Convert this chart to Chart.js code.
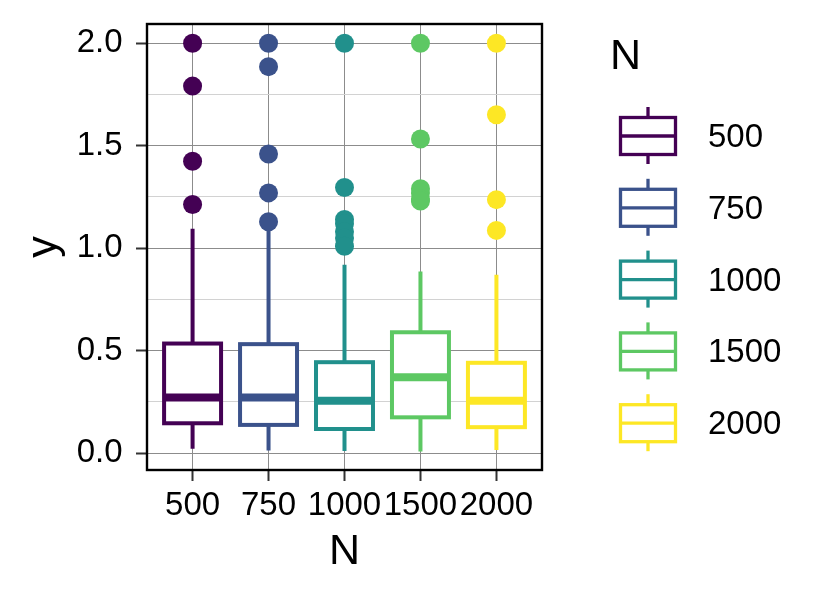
<!DOCTYPE html>
<html>
<head>
<meta charset="utf-8">
<script src="https://cdn.jsdelivr.net/npm/chart.js@4/dist/chart.umd.min.js"></script>
<style>
    body { margin: 0; background: #fff; }
    #wrap { width: 834px; height: 601px; position: relative; }
</style>
</head>
<body>
<div id="wrap"><canvas id="myChart"></canvas></div>
<script>
'use strict'

// dane
const categories = ["500", "750", "1000", "1500", "2000"];
const colors = ["#440154", "#3B528B", "#21908C", "#5DC863", "#FDE725"];
const lowerWhisker = [0.022, 0.013, 0.011, 0.008, 0.016];
const q1 = [0.146, 0.138, 0.118, 0.175, 0.127];
const median = [0.272, 0.272, 0.256, 0.370, 0.256];
const q3 = [0.535, 0.532, 0.444, 0.590, 0.441];
const upperWhisker = [1.095, 1.100, 0.920, 0.886, 0.871];
const outliers = [
    [2.0, 1.791, 1.424, 1.213],
    [2.0, 1.886, 1.460, 1.270, 1.129],
    [2.0, 1.296, 1.140, 1.120, 1.080, 1.050, 1.010],
    [2.0, 1.533, 1.290, 1.270, 1.240, 1.230],
    [2.0, 1.651, 1.237, 1.087]
];
const yMajor = [0, 0.5, 1, 1.5, 2];
const yMinor = [0.25, 0.75, 1.25, 1.75];
const yTickLabels = ["0.0", "0.5", "1.0", "1.5", "2.0"];

const FONT = '"Liberation Sans", Arial, sans-serif';
const majorGrid = "#8c8c8c";
const minorGrid = "#d2d2d2";
const boxWidth = 0.75;

(function () {

    var datasets = categories.map(function (cat, i) {
        return {
            label: cat,
            data: outliers[i].map(function (v) { return { x: i + 1, y: v }; }),
            backgroundColor: colors[i],
            borderWidth: 0,
            pointRadius: 9.5,
            pointHoverRadius: 9.5
        };
    });

    // pudelka rysowane przez skale chart.js
    var boxPlugin = {
        id: "boxes",
        beforeDatasetsDraw: function (chart) {
            var ctx = chart.ctx;
            var xs = chart.scales.x;
            var ys = chart.scales.y;
            ctx.save();
            for (var i = 0; i < categories.length; i++) {
                var left = xs.getPixelForValue(i + 1 - boxWidth / 2);
                var right = xs.getPixelForValue(i + 1 + boxWidth / 2);
                var cx = xs.getPixelForValue(i + 1);
                var top = ys.getPixelForValue(q3[i]);
                var bottom = ys.getPixelForValue(q1[i]);
                ctx.strokeStyle = colors[i];
                ctx.lineCap = "butt";

                ctx.lineWidth = 4;
                ctx.beginPath();
                ctx.moveTo(cx, top);
                ctx.lineTo(cx, ys.getPixelForValue(upperWhisker[i]));
                ctx.moveTo(cx, bottom);
                ctx.lineTo(cx, ys.getPixelForValue(lowerWhisker[i]));
                ctx.stroke();

                ctx.fillStyle = "#ffffff";
                ctx.fillRect(left, top, right - left, bottom - top);

                ctx.lineWidth = 8;
                var my = ys.getPixelForValue(median[i]);
                ctx.beginPath();
                ctx.moveTo(left, my);
                ctx.lineTo(right, my);
                ctx.stroke();

                ctx.lineWidth = 4;
                ctx.strokeRect(left, top, right - left, bottom - top);
            }
            ctx.restore();
        },
        afterDraw: function (chart) {
            var ctx = chart.ctx;
            var a = chart.chartArea;
            ctx.save();
            ctx.strokeStyle = "#000";
            ctx.lineWidth = 2.4;
            ctx.strokeRect(a.left, a.top, a.right - a.left, a.bottom - a.top);

            // legenda
            ctx.fillStyle = "#000";
            ctx.textAlign = "left";
            ctx.textBaseline = "alphabetic";
            ctx.font = "43px " + FONT;
            ctx.fillText("N", 610, 68.5);
            ctx.font = "33px " + FONT;
            for (var i = 0; i < categories.length; i++) {
                var cy = 136 + i * 71.8;
                var kx = 648;
                ctx.strokeStyle = colors[i];
                ctx.lineWidth = 3.3;
                ctx.beginPath();
                ctx.moveTo(kx, cy - 29);
                ctx.lineTo(kx, cy + 28);
                ctx.stroke();
                ctx.fillStyle = "#fff";
                ctx.fillRect(kx - 27.5, cy - 18.5, 55, 37);
                ctx.strokeRect(kx - 27.5, cy - 18.5, 55, 37);
                ctx.beginPath();
                ctx.moveTo(kx - 27.5, cy);
                ctx.lineTo(kx + 27.5, cy);
                ctx.stroke();
                ctx.fillStyle = "#000";
                ctx.fillText(categories[i], 708, cy + 11);
            }
            ctx.restore();
        }
    };

    new Chart(document.getElementById("myChart"), {
        type: "scatter",
        data: { datasets: datasets },
        options: {
            responsive: true,
            maintainAspectRatio: false,
            devicePixelRatio: 1,
            animation: false,
            events: [],
            layout: { padding: { left: 0, right: 292, top: 24, bottom: 0 } },
            plugins: {
                legend: { display: false },
                tooltip: { enabled: false }
            },
            scales: {
                x: {
                    type: "linear",
                    min: 0.4,
                    max: 5.6,
                    afterBuildTicks: function (s) {
                        s.ticks = categories.map(function (c, i) { return { value: i + 1 }; });
                    },
                    afterFit: function (s) {
                        s.height = 131;
                        s.paddingLeft = 0;
                        s.paddingRight = 0;
                    },
                    border: { display: false },
                    grid: {
                        color: majorGrid,
                        lineWidth: 1,
                        tickLength: 11,
                        tickColor: "#333",
                        tickWidth: 2
                    },
                    ticks: {
                        autoSkip: false,
                        maxRotation: 0,
                        padding: 5,
                        color: "#000",
                        font: { family: FONT, size: 33 },
                        callback: function (value) { return categories[value - 1]; }
                    },
                    title: {
                        display: true,
                        text: "N",
                        color: "#000",
                        font: { family: FONT, size: 43 },
                        padding: { top: 0, bottom: 23 }
                    }
                },
                y: {
                    min: -0.082,
                    max: 2.094,
                    afterBuildTicks: function (s) {
                        s.ticks = yMajor.concat(yMinor).sort(function (a, b) { return a - b; })
                            .map(function (v) { return { value: v }; });
                    },
                    afterFit: function (s) {
                        s.width = 147;
                        s.paddingTop = 0;
                        s.paddingBottom = 0;
                    },
                    border: { display: false },
                    grid: {
                        color: function (c) {
                            return yMajor.indexOf(c.tick.value) >= 0 ? majorGrid : minorGrid;
                        },
                        lineWidth: 1,
                        tickLength: 11,
                        tickColor: function (c) {
                            return yMajor.indexOf(c.tick.value) >= 0 ? "#333" : "rgba(0,0,0,0)";
                        },
                        tickWidth: 2
                    },
                    ticks: {
                        padding: 13.5,
                        color: "#000",
                        font: { family: FONT, size: 33 },
                        callback: function (value) {
                            var i = yMajor.indexOf(value);
                            return i >= 0 ? yTickLabels[i] : "";
                        }
                    },
                    title: {
                        display: true,
                        text: "y",
                        color: "#000",
                        font: { family: FONT, size: 43 },
                        padding: { top: 18.5, bottom: 0 }
                    }
                }
            }
        },
        plugins: [boxPlugin]
    });

})();
</script>
</body>
</html>
